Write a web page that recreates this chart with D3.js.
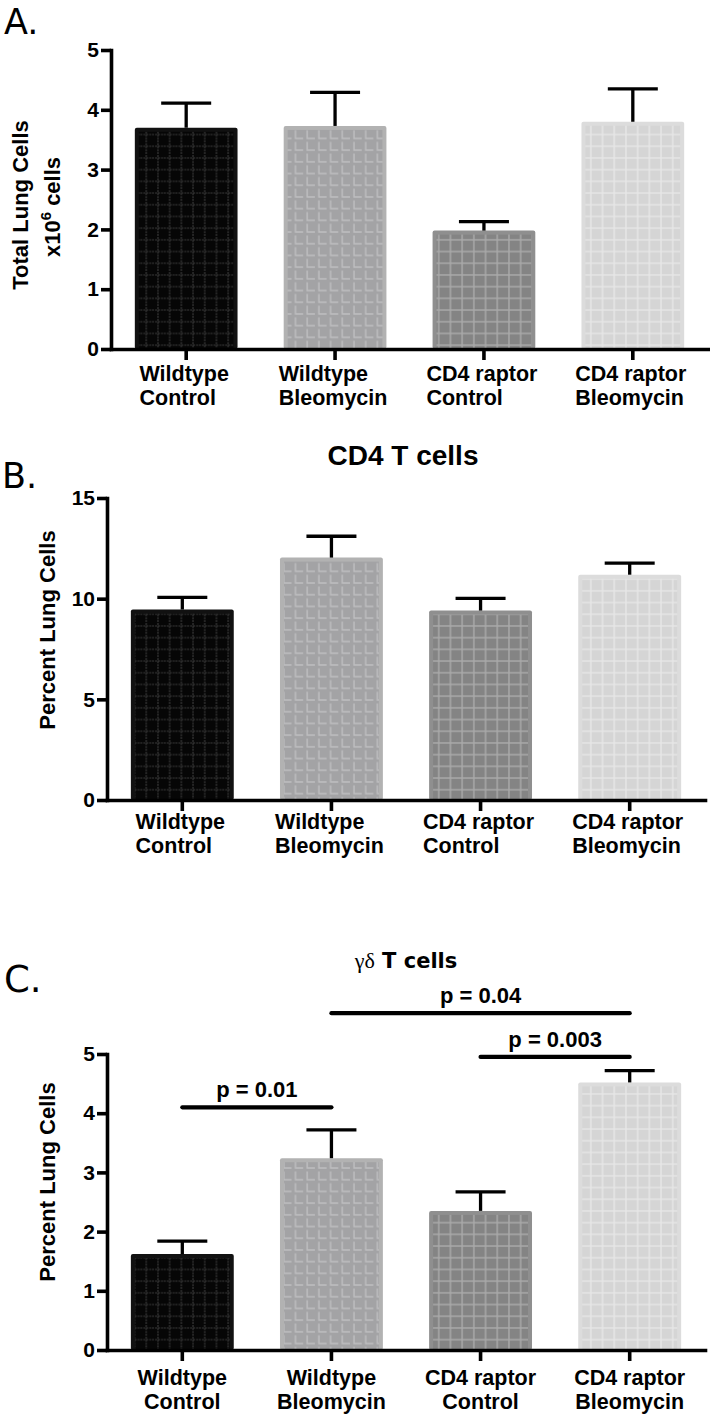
<!DOCTYPE html>
<html><head><meta charset="utf-8">
<script src="https://cdn.jsdelivr.net/npm/d3@7"></script>
<style>body{margin:0;background:#fff} svg{display:block}</style>
</head><body><svg id="c" width="710" height="1415"></svg>
<script>
// ---------- data ----------
const categoryKeys = ["WT Control", "WT Bleomycin", "CD4 raptor Control", "CD4 raptor Bleomycin"];
const categoryLines = [["Wildtype", "Control"], ["Wildtype", "Bleomycin"], ["CD4 raptor", "Control"], ["CD4 raptor", "Bleomycin"]];

const totalCellsMean = [3.70, 3.73, 1.98, 3.80];
const totalCellsErr  = [0.41, 0.56, 0.15, 0.55];
const totalCellsTicks = [0, 1, 2, 3, 4, 5];

const cd4Mean = [9.46, 12.04, 9.41, 11.19];
const cd4Err  = [0.60, 1.06, 0.60, 0.58];
const cd4Ticks = [0, 5, 10, 15];

const gdMean = [1.62, 3.24, 2.35, 4.52];
const gdErr  = [0.22, 0.48, 0.32, 0.20];
const gdTicks = [0, 1, 2, 3, 4, 5];

const pFrom  = [0, 1, 2];
const pTo    = [1, 3, 3];
const pLevel = [4.10, 5.69, 4.95];
const pLabel = ["p = 0.01", "p = 0.04", "p = 0.003"];

// ---------- styles ----------
const barBase   = ["#060606", "#a3a3a5", "#848484", "#d5d5d5"];
const barEdge   = ["#111111", "#b2b2b2", "#8f8f8f", "#dcdcdc"];
const barLine   = ["#3c3c3c", "#bfbfc1", "#a9a9a9", "#e6e6e6"];
const SANS = "'Liberation Sans', Arial, sans-serif";

const svg = d3.select("#c");
const defs = svg.append("defs");
const cell = 11.7;
barBase.forEach((c, i) => {
  const p = defs.append("pattern").attr("id", "pat" + i)
    .attr("patternUnits", "userSpaceOnUse").attr("width", cell).attr("height", cell);
  p.append("rect").attr("width", cell).attr("height", cell).attr("fill", c);
  if (i === 1) {
    p.append("path").attr("d", `M3,1.5 V${cell - 2} H${cell - 1}`)
      .attr("fill", "none").attr("stroke", barLine[i]).attr("stroke-width", 1.4);
  } else {
    p.append("path").attr("d", `M${cell / 2},0 V${cell} M0,${cell / 2} H${cell}`)
      .attr("fill", "none").attr("stroke", barLine[i]).attr("stroke-width", i === 0 ? 1.1 : 1.5)
      .attr("stroke-dasharray", i === 0 ? "2,1" : null);
  }
});

function drawPanel(o) {
  const g = svg.append("g");
  const x = d3.scaleBand().domain(categoryKeys).range([o.left, o.right])
    .paddingInner(0.31).paddingOuter(0.16);
  const y = d3.scaleLinear().domain([0, o.max]).range([o.bottom, o.top]);

  // bars
  const bars = g.selectAll("g.bar").data(o.mean).join("g");
  bars.append("rect")
    .attr("x", (d, i) => x(categoryKeys[i]))
    .attr("y", d => y(d))
    .attr("width", x.bandwidth())
    .attr("height", d => y(0) - y(d))
    .attr("rx", 2)
    .attr("fill", (d, i) => barEdge[i]);
  bars.append("rect")
    .attr("x", (d, i) => x(categoryKeys[i]) + 4)
    .attr("y", d => y(d) + 4)
    .attr("width", x.bandwidth() - 8)
    .attr("height", d => Math.max(0, y(0) - y(d) - 4))
    .attr("fill", (d, i) => `url(#pat${i})`);

  // error bars
  const cx = i => x(categoryKeys[i]) + x.bandwidth() / 2;
  o.mean.forEach((m, i) => {
    g.append("line").attr("x1", cx(i)).attr("x2", cx(i))
      .attr("y1", y(m)).attr("y2", y(m + o.err[i]))
      .attr("stroke", "#000").attr("stroke-width", 3.3);
    g.append("line").attr("x1", cx(i) - 25).attr("x2", cx(i) + 25)
      .attr("y1", y(m + o.err[i])).attr("y2", y(m + o.err[i]))
      .attr("stroke", "#000").attr("stroke-width", 3.3);
  });

  // axes
  const ya = g.append("g").attr("transform", `translate(${o.left},0)`)
    .call(d3.axisLeft(y).tickValues(o.ticks).tickFormat(d3.format("d"))
      .tickSize(10).tickSizeOuter(0).tickPadding(2));
  const xa = g.append("g").attr("transform", `translate(0,${o.bottom})`)
    .call(d3.axisBottom(x).tickSize(11).tickSizeOuter(0).tickFormat(""));
  [ya, xa].forEach(a => {
    a.select(".domain").attr("stroke", "#000").attr("stroke-width", 3.6).attr("stroke-linecap", "square");
    a.selectAll(".tick line").attr("stroke", "#000").attr("stroke-width", 3.6);
  });
  ya.selectAll(".tick text").attr("font-family", SANS).attr("font-weight", "bold")
    .attr("font-size", 21).attr("fill", "#000");

  // x labels
  categoryKeys.forEach((k, i) => {
    const t = g.append("text").attr("font-family", SANS).attr("font-weight", "bold")
      .attr("font-size", 21.5).attr("fill", "#000");
    const spans = categoryLines[i].map((s, j) => t.append("tspan")
      .attr("y", o.bottom + o.labelOff + j * 24).text(s));
    if (o.centered) {
      t.attr("text-anchor", "middle");
      spans.forEach(s => s.attr("x", cx(i)));
    } else {
      const w = d3.max(spans, s => s.node().getComputedTextLength());
      spans.forEach(s => s.attr("x", cx(i) - w / 2 - 2));
    }
  });
  return { g, x, y, cx };
}

// ---------- Panel A ----------
const A = drawPanel({ left: 111, right: 708, top: 50, bottom: 349, max: 5,
  mean: totalCellsMean, err: totalCellsErr, ticks: totalCellsTicks, labelOff: 32, centered: false });
svg.append("text").attr("transform", "translate(28,205) rotate(-90)").attr("text-anchor", "middle")
  .attr("font-family", SANS).attr("font-weight", "bold").attr("font-size", 22).text("Total Lung Cells");
const a2 = svg.append("text").attr("transform", "translate(60,207) rotate(-90)").attr("text-anchor", "middle")
  .attr("font-family", SANS).attr("font-weight", "bold").attr("font-size", 22);
a2.append("tspan").text("x10");
a2.append("tspan").attr("dy", -9).attr("font-size", 15).text("6");
a2.append("tspan").attr("dy", 9).text(" cells");
svg.append("text").attr("x", 4).attr("y", 34).attr("font-family", "'DejaVu Sans', sans-serif")
  .attr("font-size", 35).text("A.");

// ---------- Panel B ----------
const B = drawPanel({ left: 107, right: 705, top: 498, bottom: 800, max: 15,
  mean: cd4Mean, err: cd4Err, ticks: cd4Ticks, labelOff: 29, centered: false });
svg.append("text").attr("transform", "translate(55,630) rotate(-90)").attr("text-anchor", "middle")
  .attr("font-family", SANS).attr("font-weight", "bold").attr("font-size", 22).text("Percent Lung Cells");
svg.append("text").attr("x", 403).attr("y", 465).attr("text-anchor", "middle")
  .attr("font-family", SANS).attr("font-weight", "bold").attr("font-size", 28).text("CD4 T cells");
svg.append("text").attr("x", 2).attr("y", 488).attr("font-family", "'DejaVu Sans', sans-serif")
  .attr("font-size", 35).text("B.");

// ---------- Panel C ----------
const C = drawPanel({ left: 107, right: 705, top: 1054, bottom: 1350, max: 5,
  mean: gdMean, err: gdErr, ticks: gdTicks, labelOff: 35, centered: true });
svg.append("text").attr("transform", "translate(55,1182) rotate(-90)").attr("text-anchor", "middle")
  .attr("font-family", SANS).attr("font-weight", "bold").attr("font-size", 22).text("Percent Lung Cells");
const ct = svg.append("text").attr("x", 406).attr("y", 968).attr("text-anchor", "middle");
ct.append("tspan").attr("font-family", "'Liberation Serif', serif").attr("font-size", 22).text("γδ");
ct.append("tspan").attr("font-family", "'DejaVu Sans', sans-serif").attr("font-weight", "bold")
  .attr("font-size", 21).text(" T cells");
svg.append("text").attr("x", 4).attr("y", 992).attr("font-family", "'DejaVu Sans', sans-serif")
  .attr("font-size", 37).text("C.");

pFrom.forEach((f, i) => {
  const x1 = C.cx(f), x2 = C.cx(pTo[i]), yy = C.y(pLevel[i]);
  svg.append("line").attr("x1", x1).attr("x2", x2).attr("y1", yy).attr("y2", yy)
    .attr("stroke", "#000").attr("stroke-width", 4.2).attr("stroke-linecap", "round");
  svg.append("text").attr("x", (x1 + x2) / 2).attr("y", yy - 10).attr("text-anchor", "middle")
    .attr("font-family", SANS).attr("font-weight", "bold").attr("font-size", 22).text(pLabel[i]);
});
</script></body></html>
